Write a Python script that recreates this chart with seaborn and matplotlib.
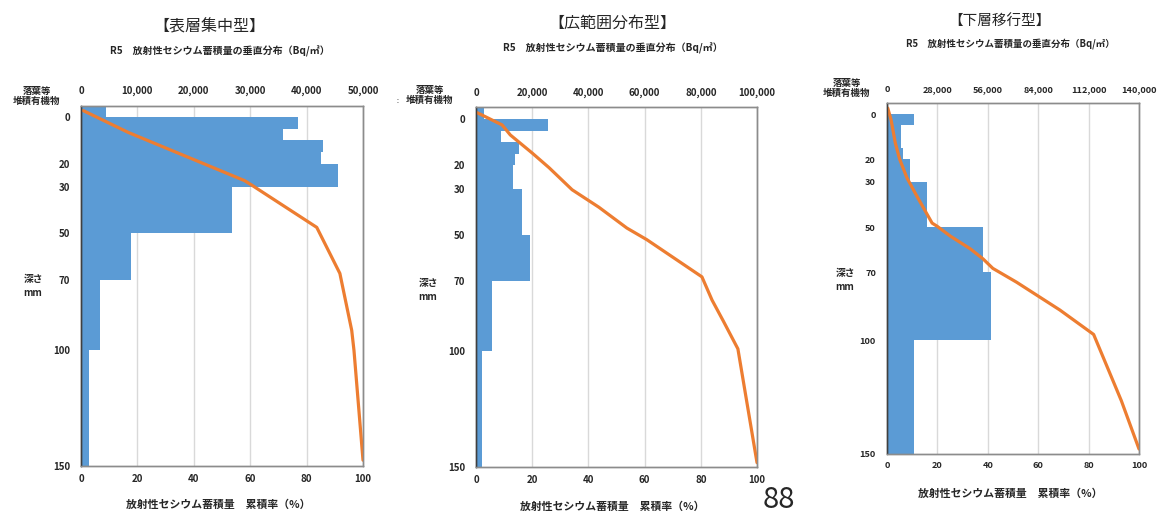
import numpy as np
import matplotlib
matplotlib.use("Agg")
import matplotlib.pyplot as plt
import seaborn as sns

# layer boundaries in mm; the litter layer (落葉等堆積有機物) is drawn as -5..0
layer_edges = [-5, 0, 5, 10, 15, 20, 30, 50, 70, 100, 150]

# Bq/m2 per layer
surface_bq = [4400, 38400, 35800, 42900, 42500, 45500, 26700, 8800, 3300, 1500]
wide_bq = [3000, 25500, 8800, 15400, 13900, 13100, 16500, 19300, 5800, 2000]
lower_bq = [0, 14800, 7800, 7800, 8900, 13000, 22300, 53200, 57500, 15200]

# cumulative rate line (depth mm, %)
surface_cum_depth = [-2.8, 6.6, 27.3, 29.2, 47.4, 67.2, 91.7, 100.3, 147.5]
surface_cum_pct = [0.8, 16.8, 58.0, 60.5, 83.6, 91.8, 96.0, 96.8, 100]
wide_cum_depth = [-2.7, 2.6, 6.9, 14.7, 21, 30.5, 38, 47, 52, 68, 78, 87, 99, 148]
wide_cum_pct = [0.4, 9.3, 12.2, 20, 26, 34.2, 43.7, 53.7, 60.8, 80.4, 84, 88, 93.2, 100]
lower_cum_depth = [-2.6, 2.5, 12.8, 19.9, 28.2, 36.4, 48.2, 49.6, 54, 59.6, 64, 68.2, 74.3, 86.6, 97.4, 126.7, 148]
lower_cum_pct = [0.3, 1.6, 3.3, 5, 7.9, 11.9, 17.9, 19.9, 25.2, 33.1, 38.1, 42, 51.4, 68.6, 82, 93, 100]

titles = ["【表層集中型】", "【広範囲分布型】", "【下層移行型】"]
subtitle = "R5　放射性セシウム蓄積量の垂直分布（Bq/㎡）"
xlabel = "放射性セシウム蓄積量　累積率（%）"
bq_max = [50000, 100000, 140000]
depth_labels = [0, 20, 30, 50, 70, 100, 150]

BAR_COLOR = "#5b9bd5"
LINE_COLOR = "#ed7d31"
W, H = 1170, 517


def px_rect(left, top, right, bottom):
    # pixel box -> figure fraction rect
    return [left / W, 1 - bottom / H, (right - left) / W, (bottom - top) / H]


def draw_panel(fig, rect, bq, cum_depth, cum_pct, xmax, fs=6.5):
    ax = fig.add_axes(rect)
    ax2 = ax.twiny()

    edges = np.array(layer_edges, dtype=float)
    mids = (edges[:-1] + edges[1:]) / 2
    sns.histplot(y=mids, weights=bq, bins=layer_edges, color=BAR_COLOR,
                 alpha=1, linewidth=0, ax=ax)
    ax.set_xlim(0, xmax)
    ax.xaxis.tick_top()
    top_ticks = np.linspace(0, xmax, 6)
    ax.set_xticks(top_ticks, [f"{int(v):,}" for v in top_ticks])
    ax.tick_params(axis="x", length=0, pad=6.5, labelsize=fs)
    ax.grid(axis="x", color="#d9d9d9", lw=1)
    ax.set_axisbelow(True)
    ax.set_xlabel("")
    ax.set_ylabel("")

    sns.lineplot(x=cum_pct, y=cum_depth, sort=False, estimator=None,
                 color=LINE_COLOR, lw=2.3, ax=ax2)
    ax2.set_xlim(0, 100)
    ax2.xaxis.tick_bottom()
    ax2.set_xticks([0, 20, 40, 60, 80, 100])
    ax2.tick_params(axis="x", length=0, pad=5.5, labelsize=fs)
    ax2.set_xlabel("")

    ax.set_ylim(150, -5)
    ax.set_yticks(list(range(-5, 151, 5)),
                  [str(v) if v in depth_labels else "" for v in range(-5, 151, 5)])
    ax.tick_params(axis="y", length=3, width=0.8, color="#404040", pad=5, labelsize=fs)

    for a in (ax, ax2):
        for lab in a.get_xticklabels() + a.get_yticklabels():
            lab.set_fontweight("bold")
        for s in a.spines.values():
            s.set_color("#8c8c8c")
            s.set_linewidth(1)
        a.spines["left"].set_color("#404040")
    return ax


sns.set_style("white")
plt.rcParams["font.family"] = ["Noto Sans CJK JP", "DejaVu Sans"]

fig = plt.figure(figsize=(W / 100, H / 100), dpi=100)

panels = [
    (px_rect(81, 105.5, 363, 466), surface_bq, surface_cum_depth, surface_cum_pct),
    (px_rect(476, 107.3, 757, 467.3), wide_bq, wide_cum_depth, wide_cum_pct),
    (px_rect(887, 102.7, 1139, 453.5), lower_bq, lower_cum_depth, lower_cum_pct),
]
for i, (rect, bq, cd, cp) in enumerate(panels):
    draw_panel(fig, rect, bq, cd, cp, bq_max[i], fs=7 if i < 2 else 6.6)

# titles and labels placed in pixel coordinates of the reference
title_pos = [(209, 27, 220, 51), (612, 23, 613, 48), (999, 21, 1010, 44)]
title_fs = [11.5, 11.5, 10.5]
for (tx, ty, sx, sy), t, tf in zip(title_pos, titles, title_fs):
    fig.text(tx / W, 1 - ty / H, t, ha="center", va="center", fontsize=tf)
    fig.text(sx / W, 1 - sy / H, subtitle, ha="center", va="center",
             fontsize=7.2 if tf > 11 else 6.8, fontweight="bold")

litter_pos = [(37, 96), (430, 95), (847, 88)]
for x, y in litter_pos:
    fig.text(x / W, 1 - y / H, "落葉等\n堆積有機物", ha="center", va="center",
             fontsize=6.8, fontweight="bold", linespacing=1.05)

depth_pos = [(33, 286), (428, 290), (845, 280)]
for x, y in depth_pos:
    fig.text(x / W, 1 - y / H, "深さ\nmm", ha="center", va="center",
             fontsize=7, fontweight="bold", linespacing=1.5)

xlabel_pos = [(218, 505), (612, 507), (1010, 494)]
for x, y in xlabel_pos:
    fig.text(x / W, 1 - y / H, xlabel, ha="center", va="center",
             fontsize=7.8, fontweight="bold")

fig.text(397 / W, 1 - 101 / H, ":", ha="center", va="center", fontsize=5)
fig.text(779 / W, 2 / H, "88", ha="center", va="bottom", fontsize=21)

fig.savefig("out.png", dpi=100)
